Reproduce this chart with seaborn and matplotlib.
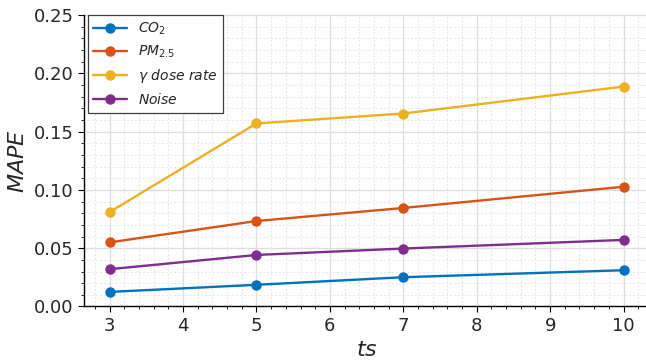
import pandas as pd
import seaborn as sns
import matplotlib.pyplot as plt

# ---------------------------------------------------------
# Data
# ---------------------------------------------------------
ts = [3, 5, 7, 10]
co2 = [0.0125, 0.0186, 0.0251, 0.0311]
pm25 = [0.0550, 0.0733, 0.0845, 0.1027]
gamma = [0.0810, 0.1570, 0.1655, 0.1886]
noise = [0.0320, 0.0442, 0.0497, 0.0571]

labels = [r"$CO_2$", r"$PM_{2.5}$", r"$\gamma\ dose\ rate$", r"$Noise$"]
colors = ["#0072BD", "#D95319", "#EDB120", "#7E2F8E"]

rows = []
for name, vals in zip(labels, [co2, pm25, gamma, noise]):
    for t, v in zip(ts, vals):
        rows.append({"ts": t, "MAPE": v, "series": name})
df = pd.DataFrame(rows)

# ---------------------------------------------------------
# Plot
# ---------------------------------------------------------
sns.set_style("ticks")
plt.rcParams["font.family"] = ["DejaVu Sans"]
plt.rcParams["mathtext.fontset"] = "dejavusans"

fig = plt.figure(figsize=(6.46, 3.61), dpi=100)
ax = fig.add_axes([0.130, 0.151, 0.875, 0.8075])

sns.lineplot(data=df, x="ts", y="MAPE", hue="series", hue_order=labels,
             palette=colors, marker="o", markersize=7.5, markeredgewidth=0,
             linewidth=1.7, ax=ax)

ax.set_xlim(2.65, 10.35)
ax.set_ylim(0, 0.25)
ax.minorticks_on()
ax.grid(which="major", color="#dedede", linewidth=0.9, linestyle="-")
ax.grid(which="minor", color="#e6e6e6", linewidth=0.7, linestyle=(0, (2, 2)))
ax.set_axisbelow(True)
sns.despine(ax=ax)
for s in ["left", "bottom"]:
    ax.spines[s].set_color("black")
    ax.spines[s].set_linewidth(1.0)

ax.tick_params(which="major", labelsize=13, length=4, color="black")
ax.tick_params(which="minor", length=2, color="black")
ax.set_xlabel(r"$ts$", fontsize=16)
ax.set_ylabel(r"$MAPE$", fontsize=16)

leg = ax.legend(loc="upper left", bbox_to_anchor=(0.007, 1.0), borderaxespad=0,
                fontsize=10, fancybox=False, framealpha=1, edgecolor="0.25",
                handlelength=2.4)
leg.get_frame().set_linewidth(0.9)

plt.savefig("out.png", dpi=100)
